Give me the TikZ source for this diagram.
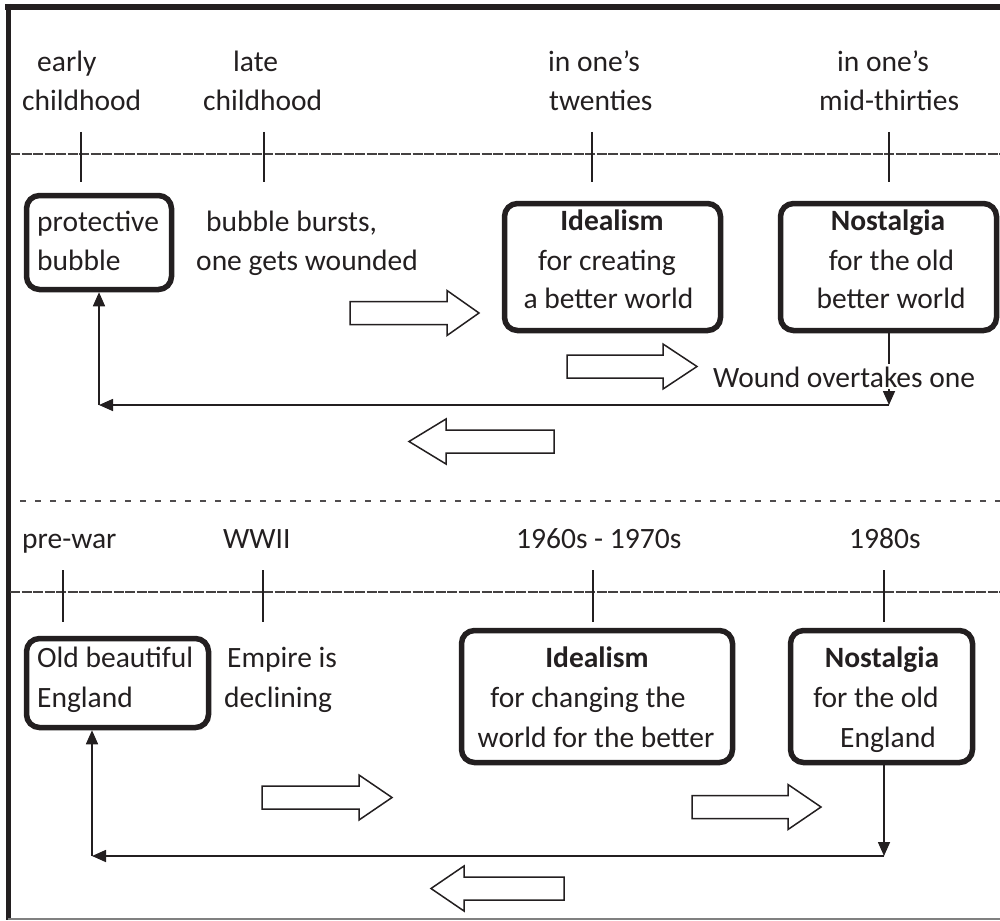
\documentclass[tikz,border=0pt]{standalone}
\usepackage{fontspec}
\setmainfont{Carlito}
\usetikzlibrary{arrows.meta}
\definecolor{ink}{RGB}{35,31,32}
\begin{document}
\begin{tikzpicture}[x=1pt,y=-1pt,
  every node/.style={text=ink, font=\fontsize{29.5}{36}\selectfont, inner sep=0pt},
  lbl/.style={anchor=base west},
  ctr/.style={anchor=base},
  box/.style={draw=ink, line width=5.5pt, rounded corners=13pt},
  tick/.style={draw=ink, line width=1.6pt},
  axis/.style={draw=ink!85, line width=1.8pt, dash pattern=on 10pt off 1.5pt},
  divider/.style={draw=ink!80, line width=1.3pt, dash pattern=on 6pt off 9pt},
  conn/.style={draw=ink, line width=1.6pt, -{Triangle[length=14pt,width=12pt]}},
  plainline/.style={draw=ink, line width=1.6pt},
  fat/.style={draw=ink, line width=1.5pt, fill=white, line join=miter},
  pics/fatarrow/.style args={#1/#2}{code={
    \path[fat] (0,-11.5) -- (#1,-11.5) -- (#1,-22.5) -- (#2,0) -- (#1,22.5)
      -- (#1,11.5) -- (0,11.5) -- cycle;}}
]
\useasboundingbox (0,0) rectangle (1000,920);

% frame
\draw[ink, line width=6pt] (5,7) -- (1000,7);
\draw[ink, line width=5pt] (8,4) -- (8,920);
\draw[gray, line width=2pt] (8,919) -- (1000,919);

% ---------- personal timeline ----------
\node[lbl] (t1a) at (37,72) {early};
\node[lbl] (t1b) at (22,111) {childhood};
\node[lbl] (t2a) at (233,72) {late};
\node[lbl] (t2b) at (203,111) {childhood};
\node[lbl] (t3a) at (548,72) {in one’s};
\node[lbl] (t3b) at (549,111) {twenties};
\node[lbl] (t4a) at (837,72) {in one’s};
\node[lbl] (t4b) at (819,111) {mid-thirties};

\draw[axis] (10,154) -- (1000,154);
\foreach \x in {81,264,592,889} \draw[tick] (\x,132) -- (\x,182);

\node[box, minimum width=145pt, minimum height=94pt] (bub) at (99,242.5) {};
\node[lbl] (bubA) at (37,231) {protective};
\node[lbl] (bubB) at (37,270) {bubble};

\node[lbl] (burstA) at (206,231) {bubble bursts,};
\node[lbl] (burstB) at (196,270) {one gets wounded};

\node[box, minimum width=216pt, minimum height=127pt] (ideal1) at (612.5,267) {};
\node[ctr] (ideal1A) at (612,230) {\bfseries Idealism};
\node[ctr] (ideal1B) at (607,270) {for creating};
\node[ctr] (ideal1C) at (608.5,308) {a better world};

\node[box, minimum width=216pt, minimum height=127pt] (nost1) at (888.5,267) {};
\node[ctr] (nost1A) at (888,230) {\bfseries Nostalgia};
\node[ctr] (nost1B) at (891.5,270) {for the old};
\node[ctr] (nost1C) at (891,308) {better world};

\node[lbl, inner sep=2pt] (wound) at (711,387) {Wound overtakes one};

\pic at (350,313) {fatarrow=97/129};
\pic at (567,366.5) {fatarrow=96/130};
\pic[xscale=-1] at (554,441.5) {fatarrow=108/145};

\coordinate (c1r) at (889,405);
\coordinate (c1l) at (99,405);
\draw[plainline] (c1r |- nost1.south) -- (c1r |- wound.north);
\draw[conn] (c1r |- wound.south) -- (c1r);
\draw[conn] (c1r) -- (c1l);
\draw[conn] (c1l) -- (bub.south);

% divider
\draw[divider] (20,501) -- (1000,501);

% ---------- national timeline ----------
\node[lbl] (p1) at (22,548) {pre-war};
\node[lbl] (p2) at (223,548) {WWII};
\node[lbl] (p3) at (516,548) {1960s - 1970s};
\node[lbl] (p4) at (849,548) {1980s};

\draw[axis] (10,592) -- (1000,592);
\foreach \x in {63,263,593,884} \draw[tick] (\x,570) -- (\x,622);

\node[box, minimum width=182pt, minimum height=89pt] (old) at (117.5,683) {};
\node[lbl] (oldA) at (37,667) {Old beautiful};
\node[lbl] (oldB) at (37,707) {England};

\node[lbl] (empA) at (227,667) {Empire is};
\node[lbl] (empB) at (224,707) {declining};

\node[box, minimum width=271pt, minimum height=132pt] (ideal2) at (597,696.5) {};
\node[ctr] (ideal2A) at (597,667) {\bfseries Idealism};
\node[ctr] (ideal2B) at (588,707) {for changing the};
\node[ctr] (ideal2C) at (596,747) {world for the better};

\node[box, minimum width=182pt, minimum height=132pt] (nost2) at (881.5,696.5) {};
\node[ctr] (nost2A) at (882,667) {\bfseries Nostalgia};
\node[ctr] (nost2B) at (876,707) {for the old};
\node[ctr] (nost2C) at (888,747) {England};

\pic at (262,797.5) {fatarrow=97/130};
\pic at (692,807) {fatarrow=96/129};
\pic[xscale=-1] at (564,888.5) {fatarrow=100/133};

\coordinate (c2r) at (884,856);
\coordinate (c2l) at (92,856);
\draw[conn] (c2r |- nost2.south) -- (c2r);
\draw[conn] (c2r) -- (c2l);
\draw[conn] (c2l) -- (c2l |- old.south);
\end{tikzpicture}
\end{document}
